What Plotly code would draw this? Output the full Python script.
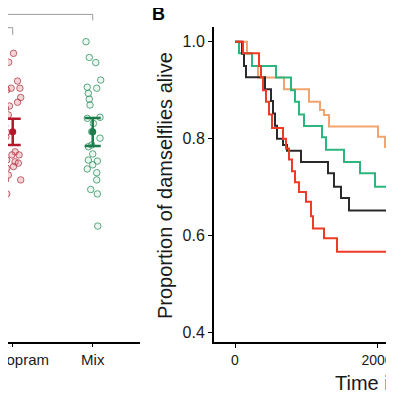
import plotly.graph_objects as go

# ---------------- Panel A (partially visible) ----------------
cat_labels = ["Citalopram", "Mix"]
cat_pos = [3, 4]

cit_x_jit = [0.01, -0.05, 0.06, -0.075, -0.02, 0.09, 0.10, 0.06, -0.04, -0.09, -0.055, -0.10, -0.075,
             -0.085, 0.03, -0.01, 0.08, -0.075, 0.03, 0.07, -0.075, 0.01, -0.055, -0.09, 0.10, -0.075]
cit_y = [84.4, 81.8, 76.3, 73.7, 74.2, 74.2, 71.5, 70.1, 69.0, 68.3, 66.4, 63.2, 61.3,
         60.0, 55.6, 54.7, 54.7, 53.2, 52.7, 52.3, 50.8, 51.3, 48.8, 47.4, 47.4, 43.3]
mix_x_jit = [-0.084, -0.043, 0.038, 0.10, -0.068, 0.05, -0.055, -0.043, -0.034, -0.068, 0.091, 0.008, -0.013,
             0.091, -0.013, -0.055, 0.0, -0.055, 0.058, 0.0, -0.068, 0.05, 0.05, -0.025, 0.058, 0.063]
mix_y = [87.8, 83.2, 81.7, 76.6, 74.5, 74.2, 72.7, 71.0, 69.3, 65.4, 65.7, 63.9, 61.5,
         59.6, 57.6, 57.1, 55.0, 53.2, 52.9, 51.8, 50.6, 49.5, 47.4, 44.6, 43.3, 33.9]
group_mean = [61.5, 61.5]
group_upper = [65.3, 65.5]
group_lower = [57.6, 57.3]

# significance brackets: (x_start, x_end, y_level, y_drop)
bracket_top = (2.5, 4.0, 95.8, 94.0)
bracket_mid = (2.5, 3.0, 91.9, 89.8)

# ---------------- Panel B: survival curves ----------------
t_orange = [0, 169, 239, 324, 690, 1042, 1197, 1254, 1324, 2014, 2113, 2197, 2300]
s_orange = [1.0, 0.975, 0.95, 0.926, 0.902, 0.876, 0.859, 0.849, 0.825, 0.804, 0.783, 0.762, 0.762]
t_green = [0, 56, 239, 577, 789, 845, 901, 972, 1225, 1282, 1535, 1761, 1972, 2300]
s_green = [1.0, 0.976, 0.95, 0.926, 0.90, 0.876, 0.85, 0.826, 0.803, 0.777, 0.752, 0.729, 0.701, 0.701]
t_black = [0, 99, 127, 155, 423, 507, 535, 563, 592, 676, 732, 930, 1310, 1394, 1493, 1606, 2197, 2300]
s_black = [1.0, 0.975, 0.95, 0.927, 0.902, 0.878, 0.852, 0.827, 0.80, 0.787, 0.775, 0.752, 0.729,
           0.701, 0.678, 0.652, 0.630, 0.630]
t_red = [0, 113, 338, 366, 394, 437, 479, 521, 676, 718, 761, 803, 845, 901, 1000, 1070, 1099,
         1254, 1437, 2169, 2300]
s_red = [1.0, 0.976, 0.95, 0.927, 0.90, 0.876, 0.85, 0.822, 0.80, 0.78, 0.757, 0.733, 0.71, 0.69,
         0.67, 0.64, 0.615, 0.595, 0.567, 0.54, 0.54]

y_ticks_b = [0.4, 0.6, 0.8, 1.0]
x_ticks_b = [0, 2000]

RED = "#B5172B"
GREEN = "#1C7C4C"

# page body has an 8px default margin, so the figure is 386 px and
# every layout coordinate below is expressed relative to that.
W = 386.0
OFF = 8.0


def px(xr):
    return (xr - OFF) / W


def py(yr):
    return 1 - (yr - OFF) / W


fig = go.Figure()

cit_x = [cat_pos[0] + j for j in cit_x_jit]
mix_x = [cat_pos[1] + j for j in mix_x_jit]

fig.add_trace(go.Scatter(
    x=cit_x, y=cit_y, mode="markers", xaxis="x", yaxis="y",
    marker=dict(size=6.5, color="rgba(228,130,140,0.35)",
                line=dict(color="rgba(160,30,45,0.65)", width=1)),
    showlegend=False))
fig.add_trace(go.Scatter(
    x=mix_x, y=mix_y, mode="markers", xaxis="x", yaxis="y",
    marker=dict(size=6.5, color="rgba(120,200,160,0.15)",
                line=dict(color="rgba(40,140,90,0.75)", width=1)),
    showlegend=False))

for i, col in enumerate([RED, GREEN]):
    fig.add_trace(go.Scatter(
        x=[cat_pos[i]], y=[group_mean[i]], mode="markers", xaxis="x", yaxis="y",
        marker=dict(size=7, color=col),
        error_y=dict(type="data", symmetric=False,
                     array=[group_upper[i] - group_mean[i]],
                     arrayminus=[group_mean[i] - group_lower[i]],
                     color=col, thickness=2.5, width=8),
        showlegend=False))

for (x0, x1, yl, yd) in [bracket_top, bracket_mid]:
    fig.add_trace(go.Scatter(
        x=[x0, x1, x1], y=[yl, yl, yd], mode="lines", xaxis="x", yaxis="y",
        line=dict(color="#9a9a9a", width=1), showlegend=False, cliponaxis=False))

curves = [
    (t_orange, s_orange, "#F2A36E"),
    (t_green, s_green, "#2DB57E"),
    (t_black, s_black, "#2A2A2A"),
    (t_red, s_red, "#EE3B28"),
]
for t, s, col in curves:
    fig.add_trace(go.Scatter(
        x=t, y=s, mode="lines", xaxis="x2", yaxis="y2",
        line=dict(color=col, width=2, shape="hv"), showlegend=False))

fig.update_layout(
    width=386, height=386,
    margin=dict(l=0, r=0, t=0, b=0, autoexpand=False),
    paper_bgcolor="white", plot_bgcolor="white",
    font=dict(family="Liberation Sans, Arial, sans-serif", color="#1a1a1a"),
    xaxis=dict(domain=[0, px(140)], range=[2.941, 4.591], automargin=False,
               tickvals=cat_pos, ticktext=cat_labels, ticklabeloverflow="allow",
               showline=True, linecolor="black", linewidth=1.5,
               ticks="outside", ticklen=3, tickcolor="black",
               showgrid=False, zeroline=False,
               tickfont=dict(size=15, color="#1a1a1a")),
    yaxis=dict(domain=[py(342), 1], range=[0, 97.66], automargin=False,
               showline=False, showticklabels=False, ticks="",
               showgrid=False, zeroline=False),
    xaxis2=dict(domain=[px(214), 1], range=[-295.8, 2239.5], anchor="y2", automargin=False,
                tickvals=x_ticks_b, ticktext=[str(v) for v in x_ticks_b],
                ticklabeloverflow="allow",
                showline=True, linecolor="black", linewidth=2,
                ticks="outside", ticklen=4, tickcolor="black",
                showgrid=False, zeroline=False,
                tickfont=dict(size=14, color="#1a1a1a")),
    yaxis2=dict(domain=[py(342), py(26.7)], range=[0.3808, 1.031], anchor="x2", automargin=False,
                tickvals=y_ticks_b, ticktext=["0.4", "0.6", "0.8", "1.0"],
                showline=True, linecolor="black", linewidth=2,
                ticks="outside", ticklen=4, tickcolor="black",
                showgrid=False, zeroline=False,
                tickfont=dict(size=16, color="#1a1a1a")),
    annotations=[
        dict(text="<b>B</b>", x=px(150), y=py(13.5), xref="paper", yref="paper",
             xanchor="left", yanchor="middle", showarrow=False,
             font=dict(size=18, color="black")),
        dict(text="Proportion of damselflies alive", x=px(165), y=py(186),
             xref="paper", yref="paper", xanchor="center", yanchor="middle",
             textangle=-90, showarrow=False, font=dict(size=20, color="#1a1a1a")),
        dict(text="Time in minutes", x=px(333), y=py(383),
             xref="paper", yref="paper", xanchor="left", yanchor="middle",
             showarrow=False, font=dict(size=20, color="#1a1a1a")),
    ],
)

fig.write_html("out.html")
